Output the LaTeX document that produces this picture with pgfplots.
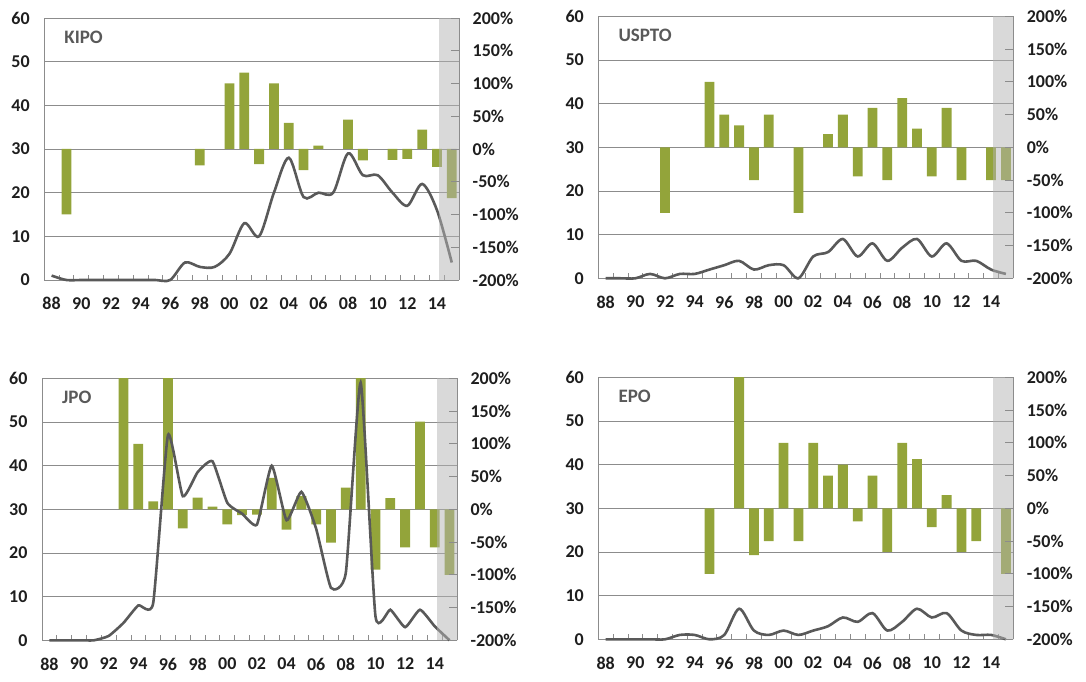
\documentclass[border=0pt]{standalone}
\usepackage{pgfplots}
\pgfplotsset{compat=1.18}
\usepackage{pgfplotstable}
\usepackage{fontspec}
\setmainfont{Carlito}
\definecolor{barolive}{HTML}{93A43A}
\definecolor{linegray}{HTML}{595959}
\definecolor{gridgray}{HTML}{8C8C8C}
\definecolor{bandgray}{HTML}{B3B3B3}
\definecolor{labelblack}{HTML}{1E1E1E}
\definecolor{titlegray}{HTML}{595959}

% x: 0 = 1988 ... 27 = 2015 ; val: left axis (count) ; pct: right axis (growth, %)
\pgfplotstableread{
x val pct
0 1 nan
1 0 -100
2 0 nan
3 0 nan
4 0 nan
5 0 nan
6 0 nan
7 0 nan
8 0 nan
9 4 nan
10 3 -25
11 3 nan
12 6 100
13 13 116.7
14 10 -23.1
15 20 100
16 28 40
17 19 -32.1
18 20 5.3
19 20 nan
20 29 45
21 24 -17.2
22 24 nan
23 20 -16.7
24 17 -15
25 22 29.4
26 16 -27.3
27 4 -75
}\kipo

\pgfplotstableread{
x val pct
0 0 nan
1 0 nan
2 0 nan
3 1 nan
4 0 -100
5 1 nan
6 1 nan
7 2 100
8 3 50
9 4 33.3
10 2 -50
11 3 50
12 3 nan
13 0 -100
14 5 nan
15 6 20
16 9 50
17 5 -44.4
18 8 60
19 4 -50
20 7 75
21 9 28.6
22 5 -44.4
23 8 60
24 4 -50
25 4 nan
26 2 -50
27 1 -50
}\uspto

\pgfplotstableread{
x val pct
0 0 nan
1 0 nan
2 0 nan
3 0 nan
4 1 nan
5 4 300
6 8 100
7 8.5 12
8 47 400
9 33 -29
10 38.5 18
11 41 4
12 31.5 -23
13 29 -9
14 26.5 -8
15 40 48
16 27.5 -31
17 34 20
18 25.5 -23
19 12 -51
20 15.5 33
21 59 280
22 5.5 -92
23 7 17
24 3 -58
25 7 134
26 3.2 -58
27 0 -100
}\jpo

\pgfplotstableread{
x val pct
0 0 nan
1 0 nan
2 0 nan
3 0 nan
4 0 nan
5 1 nan
6 1 nan
7 0 -100
8 1 nan
9 7 600
10 2 -71.4
11 1 -50
12 2 100
13 1 -50
14 2 100
15 3 50
16 5 66.7
17 4 -20
18 6 50
19 2 -66.7
20 4 100
21 7 75
22 5 -28.6
23 6 20
24 2 -66.7
25 1 -50
26 1 nan
27 0 -100
}\epo

\pgfplotsset{
  base/.style={scale only axis, width=415pt, height=262pt, xmin=-0.5, xmax=27.5},
  lab/.style={font=\bfseries\fontsize{18}{18}\selectfont, text=labelblack},
}

% #1,#2: lower left corner; #3: title; #4: table; #5: smoothing tension
\newcommand{\panel}[5]{%
  % frame, grid, left axis, category axis
  \begin{axis}[base, at={(#1pt,#2pt)}, anchor=south west,
    ymin=0, ymax=60, ytick={0,10,...,60}, yticklabels={0,10,20,30,40,50,60},
    ymajorgrids, grid style={gridgray, line width=0.8pt},
    axis x line*=bottom, axis y line*=left,
    axis line style={gridgray, line width=0.8pt, -},
    xtick={0,2,...,26},
    xticklabels={88,90,92,94,96,98,00,02,04,06,08,10,12,14},
    minor xtick={-0.5,0.5,...,27.5},
    tick align=inside, major tick length=0pt, minor tick length=5pt,
    minor tick style={gridgray, line width=0.8pt},
    ticklabel style={lab},
    xticklabel style={yshift=-14pt},
    yticklabel style={xshift=-11pt},
  ]
  \node[anchor=north west, inner sep=0pt, xshift=20pt, yshift=-13pt,
        font=\bfseries\fontsize{19}{19}\selectfont, text=titlegray]
        at (rel axis cs:0,1) {#3};
  \end{axis}
  % bars, right scale
  \begin{axis}[base, at={(#1pt,#2pt)}, anchor=south west,
    ymin=-200, ymax=200, hide axis]
  \addplot[ybar, bar width=9.8pt, bar shift=0pt, fill=barolive, draw=none]
    table[x=x, y=pct] {#4};
  \end{axis}
  % line, left scale, and shaded final year
  \begin{axis}[base, at={(#1pt,#2pt)}, anchor=south west,
    ymin=0, ymax=60, hide axis, clip=false]
  \addplot[linegray, line width=2.6pt, smooth, tension=#5, mark=none]
    table[x=x, y=val] {#4};
  \addplot[draw=none, fill=bandgray, fill opacity=0.5]
    coordinates {(26.15,60) (27.5,60)} \closedcycle;
  \end{axis}
  % right axis
  \begin{axis}[base, at={(#1pt,#2pt)}, anchor=south west,
    ymin=-200, ymax=200, axis y line*=right, axis x line=none,
    axis line style={gridgray, line width=0.8pt, -},
    ytick={-200,-150,...,200},
    yticklabels={-200\%,-150\%,-100\%,-50\%,0\%,50\%,100\%,150\%,200\%},
    tick align=inside, major tick length=8pt,
    major tick style={gridgray, line width=0.8pt},
    ticklabel style={lab},
    yticklabel style={xshift=10pt},
  ]
  \end{axis}
}

\begin{document}
\begin{tikzpicture}
\useasboundingbox (0,0) rectangle (1086pt,681pt);
\panel{44.2}{401}{KIPO}{\kipo}{0.5}
\panel{598.3}{402.7}{USPTO}{\uspto}{0.5}
\panel{42}{40.7}{JPO}{\jpo}{0.3}
\panel{598.3}{41.7}{EPO}{\epo}{0.5}
\end{tikzpicture}
\end{document}
